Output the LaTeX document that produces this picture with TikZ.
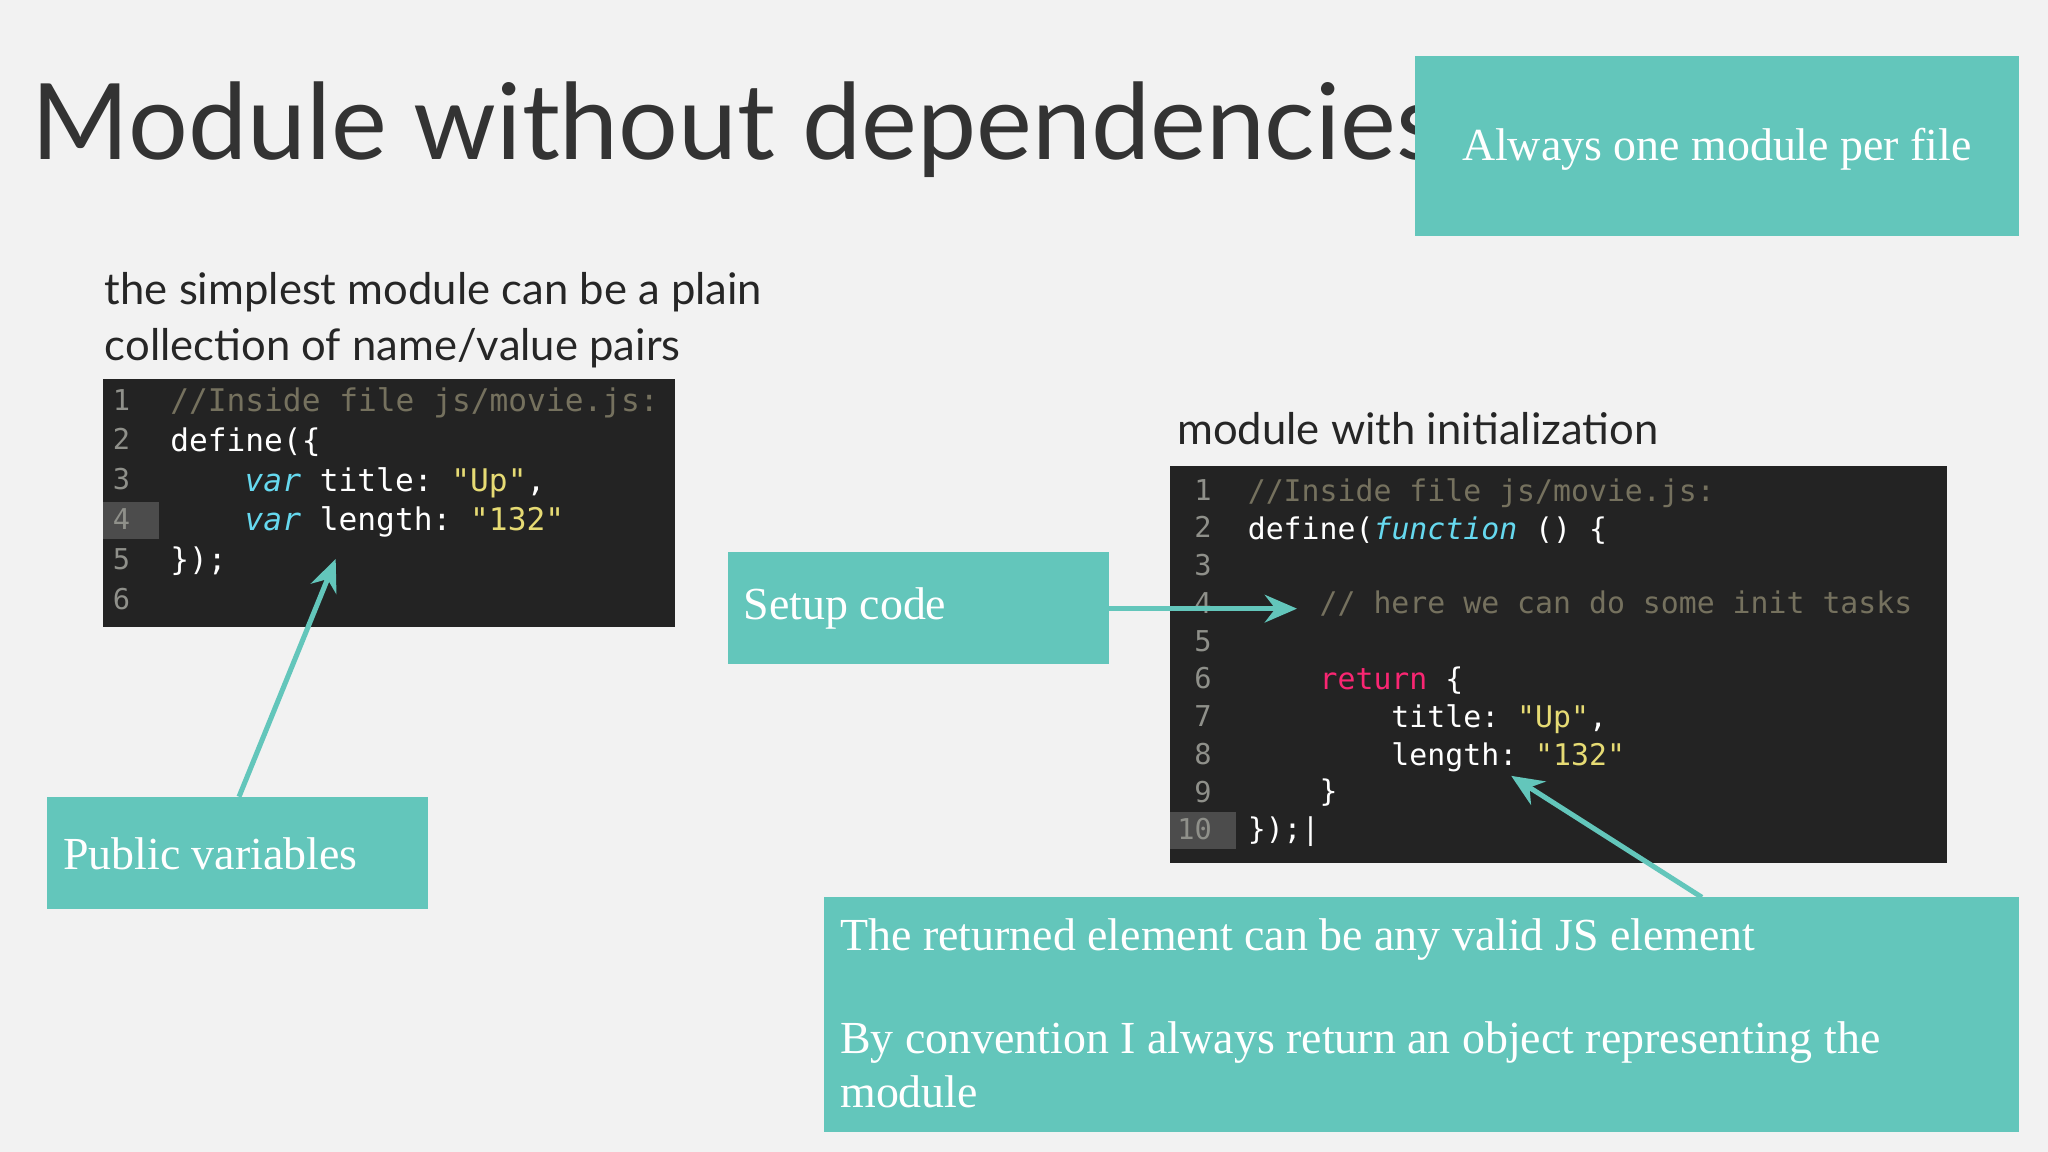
\documentclass[tikz,border=0pt]{standalone}
\usepackage{fontspec}
\setmainfont{Lato}
\newfontfamily\boxfont{Liberation Serif}
\setmonofont{DejaVu Sans Mono}
\usetikzlibrary{arrows.meta}
\definecolor{teal1}{HTML}{63C6BB}
\definecolor{bg}{HTML}{F2F2F2}
\definecolor{codebg}{HTML}{232323}
\definecolor{cmt}{HTML}{75715E}
\definecolor{kw}{HTML}{66D9EF}
\definecolor{str}{HTML}{E6DB74}
\definecolor{ret}{HTML}{F92672}
\definecolor{lnum}{HTML}{8F908A}
\tikzset{
 tbox/.style={fill=teal1,draw=none,inner sep=0pt},
 btxt/.style={text=white,font=\boxfont\fontsize{20}{24}\selectfont,anchor=west,inner sep=0pt},
 lbl/.style={text=black!85,font=\fontsize{19}{23}\selectfont,anchor=base west,inner sep=0pt},
 codeA/.style={text=white,font=\ttfamily\fontsize{13.6}{16}\selectfont,anchor=base west,inner sep=0pt},
 codeB/.style={text=white,font=\ttfamily\fontsize{13}{16}\selectfont,anchor=base west,inner sep=0pt},
 num/.style={text=lnum,font=\ttfamily\fontsize{12.5}{16}\selectfont,anchor=base west,inner sep=0pt},
 conn/.style={draw=teal1,line width=2.2pt,-{Stealth[length=14pt,width=12pt]}}
}
\begin{document}
\begin{tikzpicture}[x=0.02cm,y=-0.02cm]
\fill[bg] (0,0) rectangle (1568,882);
\useasboundingbox (0,0) rectangle (1568,882);
\node[anchor=base west,inner sep=0pt,text=black!80,font=\fontsize{46}{50}\selectfont] (title) at (24,122) {Module without dependencies};
\fill[tbox] (1083,43) rectangle (1546,181);
\node[btxt,anchor=center] (always) at (1314.5,114) {Always one module per file};
\node[lbl] (l1) at (80,233) {the simplest module can be a plain};
\node[lbl] (l2) at (80,276) {collection of name/value pairs};
\node[lbl] (l3) at (901,340) {module with initialization};
% code 1
\fill[codebg] (79,290) rectangle (517,480);
\fill[black!70] (79,384) rectangle (122,413);
\foreach \n [count=\i] in {1,...,6} \node[num] at (86,314+30.5*\i-30.5) {\n};
\node[codeA,text=cmt] at (130,315) {//Inside file js/movie.js:};
\node[codeA] at (130,346) {define(\{};
\node[codeA] at (187,376) {\textcolor{kw}{\itshape var} title: \textcolor{str}{"Up"},};
\node[codeA] (len1) at (187,406) {\textcolor{kw}{\itshape var} length: \textcolor{str}{"132"}};
\node[codeA] at (130,437) {\});};
\coordinate (c1t) at (257,428);
% code 2
\fill[codebg] (896,357) rectangle (1491,661);
\fill[black!70] (896,622) rectangle (946,650);
\foreach \n [count=\i] in {1,...,9} \node[num] at (914,383+28.9*\i-28.9) {\n};
\node[num] at (901,643) {10};
\node[codeB,text=cmt] at (955,384) {//Inside file js/movie.js:};
\node[codeB] at (955,413) {define(\textcolor{kw}{\itshape function} () \{};
\node[codeB,text=cmt] at (1010,470) {// here we can do some init tasks};
\node[codeB,text=ret] at (1010,528) {return \textcolor{white}{\{}};
\node[codeB] at (1065,557) {title: \textcolor{str}{"Up"},};
\node[codeB] at (1065,586) {length: \textcolor{str}{"132"}};
\node[codeB] at (1010,614) {\}};
\node[codeB] at (955,643) {\});|};
\coordinate (c2a) at (993,466);
\coordinate (c2b) at (1157,594);
% boxes
\fill[tbox] (557,423) rectangle (849,508);
\node[btxt] (setup) at (569,466) {Setup code};
\coordinate (setupR) at (849,466);
\fill[tbox] (36,610) rectangle (328,696);
\node[btxt] (pub) at (48,654) {Public variables};
\coordinate (pubT) at (183,610);
\fill[tbox] (631,687) rectangle (1546,867);
\node[btxt] (r1) at (643,719) {The returned element can be any valid JS element};
\node[btxt] (r2) at (643,798) {By convention I always return an object representing the};
\node[btxt] (r3) at (643,836) {module};
\coordinate (botT) at (1303,687);
\draw[conn] (setupR) -- (c2a);
\draw[conn] (pubT) -- (c1t);
\draw[conn] (botT) -- (c2b);
\end{tikzpicture}
\end{document}
